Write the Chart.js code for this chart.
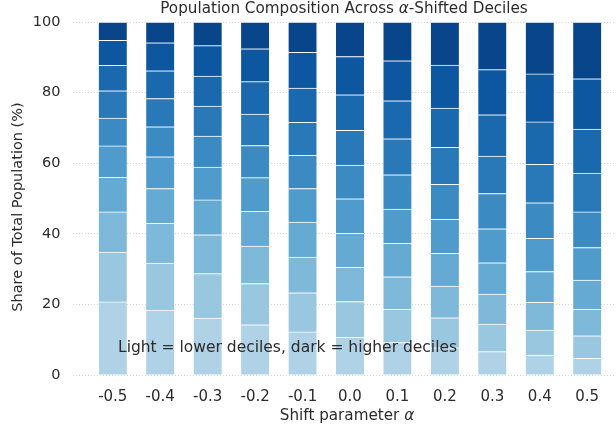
<!DOCTYPE html>
<html>
<head>
<meta charset="utf-8">
<title>Population Composition Across Shifted Deciles</title>
<script src="https://cdn.jsdelivr.net/npm/chart.js"></script>
<style>
    html, body { margin: 0; padding: 0; background: #fff; overflow: hidden; }
    #wrap { position: relative; width: 616px; height: 427px; }
</style>
</head>
<body>
<div id="wrap"><canvas id="chart"></canvas></div>
<script>
// shift parameter values (x categories)
const alphaLabels = ['-0.5', '-0.4', '-0.3', '-0.2', '-0.1', '0.0', '0.1', '0.2', '0.3', '0.4', '0.5'];

// share of population (%) in each decile, one value per alpha
const decile1  = [20.7, 18.4, 16.1, 14.2, 12.2, 10.7, 9.2, 7.7, 6.6, 5.6, 4.7];
const decile2  = [14.1, 13.3, 12.6, 11.7, 11.1, 10.1, 9.4, 8.5, 7.8, 7.1, 6.4];
const decile3  = [11.4, 11.3, 11.0, 10.6, 10.1, 9.7, 9.2, 9.0, 8.5, 7.9, 7.5];
const decile4  = [9.8, 9.8, 9.9, 9.9, 9.9, 9.6, 9.5, 9.3, 8.9, 8.7, 8.3];
const decile5  = [8.9, 9.0, 9.3, 9.5, 9.5, 9.8, 9.7, 9.6, 9.6, 9.4, 9.2];
const decile6  = [7.9, 8.5, 8.8, 9.1, 9.4, 9.6, 9.7, 9.9, 10.0, 10.1, 10.1];
const decile7  = [7.7, 8.0, 8.5, 8.9, 9.4, 9.8, 10.2, 10.5, 10.6, 10.9, 11.0];
const decile8  = [7.2, 7.9, 8.5, 9.2, 9.7, 10.1, 10.8, 11.1, 11.7, 12.0, 12.5];
const decile9  = [7.1, 7.9, 8.6, 9.3, 10.1, 10.8, 11.3, 12.2, 12.8, 13.6, 14.2];
const decile10 = [5.2, 5.9, 6.7, 7.6, 8.6, 9.8, 11.0, 12.2, 13.5, 14.7, 16.1];

const yTicks = [0, 20, 40, 60, 80, 100];

const deciles = [decile1, decile2, decile3, decile4, decile5, decile6, decile7, decile8, decile9, decile10];

// Blues colormap, light -> dark
const blues = ['#b0d2e7', '#99c7e0', '#7eb9da', '#64aad3', '#4f9bcb',
               '#3b8bc2', '#2979b9', '#1a68ae', '#0c57a0', '#08458a'];

const datasets = deciles.map((vals, k) => ({
    label: 'D' + (k + 1),
    data: vals.map((v, i) => ({ x: i, y: v })),
    backgroundColor: blues[k],
    borderColor: '#ffffff',
    borderWidth: { top: 1, bottom: 0, left: 0, right: 0 },
    borderSkipped: false,
    barThickness: 28
}));

const FONT = '"DejaVu Sans", sans-serif';
const TXT = '#2b2b2b';

// draws a line of text where some parts are italic (the alpha symbol)
function drawParts(ctx, parts, x, y, size, align) {
    let total = 0;
    const widths = parts.map(p => {
        ctx.font = (p.italic ? 'italic ' : '') + size + 'px ' + FONT;
        const w = ctx.measureText(p.t).width;
        total += w;
        return w;
    });
    let cx = align === 'center' ? x - total / 2 : x;
    ctx.textAlign = 'left';
    parts.forEach((p, i) => {
        ctx.font = (p.italic ? 'italic ' : '') + size + 'px ' + FONT;
        ctx.fillText(p.t, cx, y);
        cx += widths[i];
    });
}

const textPlugin = {
    id: 'texts',
    afterDraw(chart) {
        const ctx = chart.ctx;
        ctx.save();
        ctx.fillStyle = TXT;
        ctx.textBaseline = 'alphabetic';

        drawParts(ctx, [
            { t: 'Population Composition Across ' },
            { t: 'α', italic: true },
            { t: '-Shifted Deciles' }
        ], 344, 13, 15.2, 'center');

        drawParts(ctx, [
            { t: 'Shift parameter ' },
            { t: 'α', italic: true }
        ], 347, 420, 15.2, 'center');

        ctx.font = '15.5px ' + FONT;
        ctx.textAlign = 'left';
        ctx.fillText('Light = lower deciles, dark = higher deciles', 118, 352);

        ctx.translate(18, 207);
        ctx.rotate(-Math.PI / 2);
        ctx.font = '14.5px ' + FONT;
        ctx.textAlign = 'center';
        ctx.textBaseline = 'middle';
        ctx.fillText('Share of Total Population (%)', 0, 0);
        ctx.restore();
    }
};

new Chart(document.getElementById('chart'), {
    type: 'bar',
    data: { datasets: datasets },
    plugins: [textPlugin],
    options: {
        responsive: true,
        maintainAspectRatio: false,
        animation: false,
        devicePixelRatio: 1,
        layout: { padding: { top: 22, left: 0, right: 0, bottom: 0 } },
        plugins: {
            legend: { display: false },
            title: { display: false },
            tooltip: { enabled: false }
        },
        scales: {
            x: {
                type: 'linear',
                stacked: true,
                offset: false,
                min: -0.83,
                max: 10.607,
                grid: { display: false },
                border: { display: false },
                afterBuildTicks: axis => {
                    axis.ticks = alphaLabels.map((_, i) => ({ value: i }));
                },
                afterFit: axis => { axis.height = 52; },
                ticks: {
                    autoSkip: false,
                    maxRotation: 0,
                    padding: 5,
                    color: TXT,
                    font: { family: FONT, size: 15 },
                    callback: value => alphaLabels[value]
                }
            },
            y: {
                stacked: true,
                min: 0,
                max: 100,
                grid: { color: '#cccccc', lineWidth: 0.8, drawTicks: false },
                border: { display: false, dash: [1, 2] },
                afterBuildTicks: axis => {
                    axis.ticks = yTicks.map(v => ({ value: v }));
                },
                afterFit: axis => { axis.width = 73.4; },
                ticks: {
                    padding: 13,
                    color: TXT,
                    font: { family: FONT, size: 14.5 }
                }
            }
        }
    }
});
</script>
</body>
</html>
